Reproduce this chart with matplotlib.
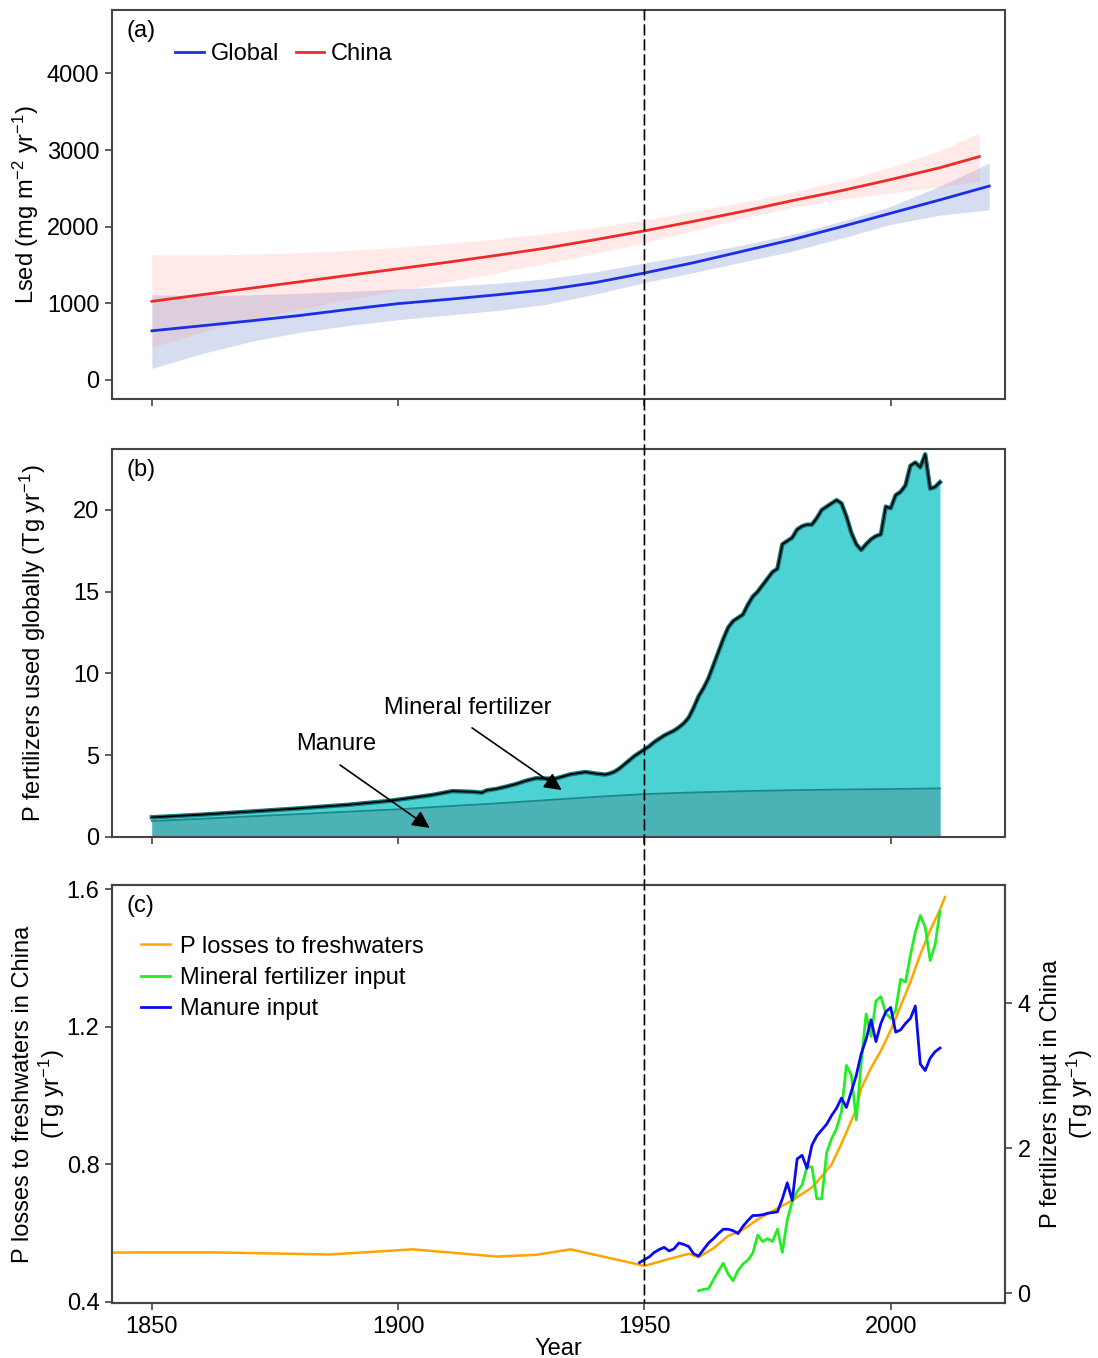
import matplotlib
matplotlib.use('Agg')
import matplotlib.pyplot as plt
from matplotlib.patches import ConnectionPatch

plt.rcParams['font.family'] = ['Liberation Sans', 'DejaVu Sans']
plt.rcParams['mathtext.fontset'] = 'custom'
plt.rcParams['mathtext.rm'] = 'Liberation Sans'
plt.rcParams['mathtext.it'] = 'Liberation Sans:italic'
plt.rcParams['mathtext.default'] = 'regular'

# ---------------- Panel (a): Lsed ----------------
global_years = [1850, 1860, 1870, 1880, 1890, 1900, 1910, 1920, 1930, 1940,
                1950, 1960, 1970, 1980, 1990, 2000, 2010, 2020]
global_mean = [640, 705, 770, 840, 920, 995, 1050, 1110, 1175, 1270,
               1395, 1530, 1680, 1830, 2000, 2175, 2350, 2530]
global_lo = [150, 340, 500, 620, 710, 785, 845, 905, 985, 1120,
             1270, 1400, 1540, 1680, 1850, 2030, 2150, 2220]
global_hi = [1110, 1100, 1110, 1130, 1155, 1185, 1220, 1260, 1320, 1410,
             1525, 1640, 1760, 1900, 2070, 2265, 2530, 2830]

china_years = [1850, 1860, 1870, 1880, 1890, 1900, 1910, 1920, 1930, 1940,
               1950, 1960, 1970, 1980, 1990, 2000, 2010, 2018]
china_mean = [1025, 1110, 1195, 1280, 1365, 1450, 1535, 1625, 1720, 1830,
              1945, 2070, 2200, 2340, 2470, 2615, 2770, 2915]
china_lo = [420, 620, 790, 920, 1050, 1165, 1280, 1395, 1520, 1650,
            1790, 1950, 2110, 2250, 2360, 2440, 2520, 2590]
china_hi = [1635, 1630, 1640, 1660, 1690, 1730, 1780, 1840, 1910, 1990,
            2090, 2200, 2320, 2450, 2600, 2775, 2990, 3225]

# ---------------- Panel (b): global P fertilizers ----------------
total_years = [1850, 1860, 1870, 1880, 1890, 1898, 1902, 1907, 1911, 1915,
               1917, 1918, 1920, 1922, 1924, 1926, 1928, 1930, 1932, 1935,
               1938, 1940, 1942, 1943, 1944, 1945, 1946, 1947, 1948, 1949,
               1950, 1951, 1952, 1953, 1954, 1955, 1956, 1957, 1958, 1959,
               1960, 1961, 1962, 1963, 1964, 1965, 1966, 1967, 1968, 1969,
               1970, 1971, 1972, 1973, 1974, 1975, 1976, 1977, 1978, 1979,
               1980, 1981, 1982, 1983, 1984, 1985, 1986, 1987, 1988, 1989,
               1990, 1991, 1992, 1993, 1994, 1995, 1996, 1997, 1998, 1999,
               2000, 2001, 2002, 2003, 2004, 2005, 2006, 2007, 2008, 2009,
               2010]
total_vals = [1.20, 1.36, 1.55, 1.75, 1.97, 2.20, 2.36, 2.57, 2.80, 2.76,
              2.71, 2.85, 2.94, 3.08, 3.24, 3.44, 3.59, 3.57, 3.57, 3.83,
              3.97, 3.88, 3.81, 3.88, 4.00, 4.20, 4.45, 4.70, 4.95, 5.15,
              5.35, 5.55, 5.80, 6.00, 6.20, 6.35, 6.50, 6.70, 6.95, 7.30,
              7.90, 8.60, 9.10, 9.70, 10.50, 11.30, 12.10, 12.80, 13.20, 13.40,
              13.60, 14.20, 14.70, 15.00, 15.40, 15.80, 16.20, 16.40, 17.90, 18.10,
              18.30, 18.80, 19.00, 19.10, 19.10, 19.50, 20.00, 20.20, 20.40, 20.60,
              20.40, 19.60, 18.60, 17.90, 17.55, 17.90, 18.20, 18.40, 18.50, 20.20,
              20.10, 20.90, 21.10, 21.50, 22.70, 22.90, 22.60, 23.40, 21.30, 21.40,
              21.70]

manure_years = [1850, 1860, 1870, 1880, 1890, 1900, 1910, 1920, 1930, 1940,
                1950, 1960, 1970, 1980, 1990, 2000, 2010]
manure_vals = [0.97, 1.11, 1.26, 1.40, 1.55, 1.69, 1.88, 2.05, 2.25, 2.45,
               2.62, 2.72, 2.80, 2.86, 2.90, 2.93, 2.97]

# ---------------- Panel (c): China ----------------
loss_years = [1840, 1847, 1863, 1886, 1903, 1920, 1928, 1935, 1950, 1955,
              1959, 1961, 1964, 1967, 1970, 1973, 1977, 1980, 1984, 1986,
              1988, 1990, 1993, 1994, 1996, 1998, 2000, 2002, 2004, 2006,
              2008, 2010, 2011]
loss_vals = [0.543, 0.544, 0.544, 0.538, 0.553, 0.532, 0.537, 0.553, 0.505, 0.525,
             0.540, 0.530, 0.556, 0.592, 0.610, 0.640, 0.672, 0.695, 0.733, 0.765,
             0.800, 0.860, 0.960, 1.020, 1.080, 1.130, 1.190, 1.260, 1.330, 1.410,
             1.480, 1.540, 1.577]

mineral_years = list(range(1961, 2011))
mineral_vals = [0.03, 0.05, 0.06, 0.18, 0.30, 0.41, 0.26, 0.17, 0.31, 0.40,
                0.455, 0.55, 0.80, 0.71, 0.75, 0.71, 0.88, 0.56, 1.01, 1.26,
                1.40, 1.49, 1.74, 1.74, 1.30, 1.30, 1.94, 2.13, 2.27, 2.50,
                3.14, 3.01, 2.39, 3.17, 3.85, 3.54, 4.03, 4.09, 3.86, 3.79,
                3.90, 4.33, 4.29, 4.66, 4.98, 5.21, 5.05, 4.59, 4.80, 5.27]

manure_c_years = list(range(1949, 2011))
manure_c_vals = [0.42, 0.46, 0.50, 0.56, 0.60, 0.63, 0.58, 0.61, 0.69, 0.67,
                 0.64, 0.54, 0.51, 0.60, 0.69, 0.75, 0.82, 0.88, 0.88, 0.86,
                 0.82, 0.92, 1.00, 1.07, 1.07, 1.08, 1.10, 1.11, 1.12, 1.30,
                 1.52, 1.28, 1.85, 1.90, 1.72, 2.04, 2.17, 2.25, 2.33, 2.45,
                 2.55, 2.69, 2.56, 2.78, 3.00, 3.30, 3.50, 3.77, 3.47, 3.72,
                 3.88, 3.94, 3.60, 3.63, 3.72, 3.79, 3.96, 3.16, 3.07, 3.24,
                 3.33, 3.38]

year_ticks = [1850, 1900, 1950, 2000]
ref_year = 1950

# ---------------- Figure ----------------
FS = 17
SPINE = '#444444'
fig = plt.figure(figsize=(10.98, 13.58), dpi=100)
ax1 = fig.add_axes([0.102, 0.7062, 0.8133, 0.2865])
ax2 = fig.add_axes([0.102, 0.3837, 0.8133, 0.2857])
ax3 = fig.add_axes([0.102, 0.0405, 0.8133, 0.3078])
ax3r = ax3.twinx()

xlim = (1841.9, 2023.2)
for ax in (ax1, ax2, ax3, ax3r):
    ax.set_xlim(*xlim)
    for s in ax.spines.values():
        s.set_color(SPINE)
        s.set_linewidth(1.5)
    ax.tick_params(direction='out', length=5, width=1.2, color=SPINE,
                   labelsize=FS, pad=4)
for ax in (ax1, ax2, ax3):
    ax.set_xticks(year_ticks)

# Panel (a)
ax1.fill_between(global_years, global_lo, global_hi, color='#3355bb',
                 alpha=0.2, lw=0)
ax1.fill_between(china_years, china_lo, china_hi, color='#ff9191',
                 alpha=0.2, lw=0)
ax1.plot(global_years, global_mean, color='#1a2ee6', lw=2, label='Global')
ax1.plot(china_years, china_mean, color='#ee2a2a', lw=2, label='China')
ax1.set_ylim(-250, 4830)
ax1.set_yticks([0, 1000, 2000, 3000, 4000])
ax1.tick_params(labelbottom=False)
ax1.set_ylabel('Lsed (mg m$^{-2}$ yr$^{-1}$)', fontsize=FS, labelpad=4)
ax1.legend(loc='center left', bbox_to_anchor=(0.047, 0.887), ncol=2,
           frameon=False, fontsize=FS, handlelength=1.2,
           handletextpad=0.3, columnspacing=0.7)
ax1.text(0.016, 0.975, '(a)', transform=ax1.transAxes, fontsize=FS,
         va='top', ha='left')

# Panel (b)
ax2.fill_between(total_years, 0, total_vals, color='#4dd2d4', lw=0)
ax2.fill_between(manure_years, 0, manure_vals, color='#4bb3b5', lw=0)
ax2.plot(manure_years, manure_vals, color='#1a8a8c', lw=1.3)
ax2.plot(total_years, total_vals, color='#13787a', lw=3.2)
ax2.plot(total_years, total_vals, color='black', lw=1.3)
ax2.set_ylim(0, 23.73)
ax2.set_yticks([0, 5, 10, 15, 20])
ax2.tick_params(labelbottom=False)
ax2.set_ylabel('P fertilizers used globally (Tg yr$^{-1}$)', fontsize=FS,
               labelpad=18)
ax2.text(0.016, 0.975, '(b)', transform=ax2.transAxes, fontsize=FS,
         va='top', ha='left')
arrow_kw = dict(arrowstyle='-|>', color='black', lw=1.2, mutation_scale=26,
                shrinkA=0, shrinkB=0)
ax2.annotate('', xy=(1933.2, 2.87), xytext=(1915.0, 6.67),
             arrowprops=arrow_kw)
ax2.text(1914.2, 7.89, 'Mineral fertilizer', fontsize=FS, ha='center',
         va='center')
ax2.annotate('', xy=(1906.4, 0.55), xytext=(1888.2, 4.40),
             arrowprops=arrow_kw)
ax2.text(1887.4, 5.69, 'Manure', fontsize=FS, ha='center', va='center')

# Panel (c)
l1, = ax3.plot(loss_years, loss_vals, color='#ffa500', lw=1.8,
               label='P losses to freshwaters')
l2, = ax3r.plot(mineral_years, mineral_vals, color='#22ee22', lw=2,
                label='Mineral fertilizer input')
l3, = ax3r.plot(manure_c_years, manure_c_vals, color='#0a0af0', lw=2,
                label='Manure input')
ax3.set_ylim(0.397, 1.612)
ax3.set_yticks([0.4, 0.8, 1.2, 1.6])
ax3.set_yticklabels(['0.4', '0.8', '1.2', '1.6'])
ax3r.set_ylim(-0.138, 5.63)
ax3r.set_yticks([0, 2, 4])
ax3.set_xticklabels([str(y) for y in year_ticks])
ax3.set_xlabel('Year', fontsize=FS, labelpad=0)
ax3.set_ylabel('P losses to freshwaters in China\n(Tg yr$^{-1}$)',
               fontsize=FS, labelpad=0, linespacing=1.1)
ax3r.set_ylabel('P fertilizers input in China\n(Tg yr$^{-1}$)',
                fontsize=FS, labelpad=7, linespacing=1.1)
ax3.text(0.016, 0.975, '(c)', transform=ax3.transAxes, fontsize=FS,
         va='top', ha='left')
ax3.legend(handles=[l1, l2, l3], loc='upper left',
           bbox_to_anchor=(0.009, 0.93), frameon=False, fontsize=FS,
           handlelength=1.2, handletextpad=0.45, labelspacing=0.4)

# Dashed reference line at 1950 through all panels
con = ConnectionPatch(xyA=(ref_year, 1), coordsA=ax1.get_xaxis_transform(),
                      xyB=(ref_year, 0), coordsB=ax3.get_xaxis_transform(),
                      linestyle=(0, (6, 3)), color='black', lw=1.2)
fig.add_artist(con)

fig.savefig('out.png', dpi=100)
